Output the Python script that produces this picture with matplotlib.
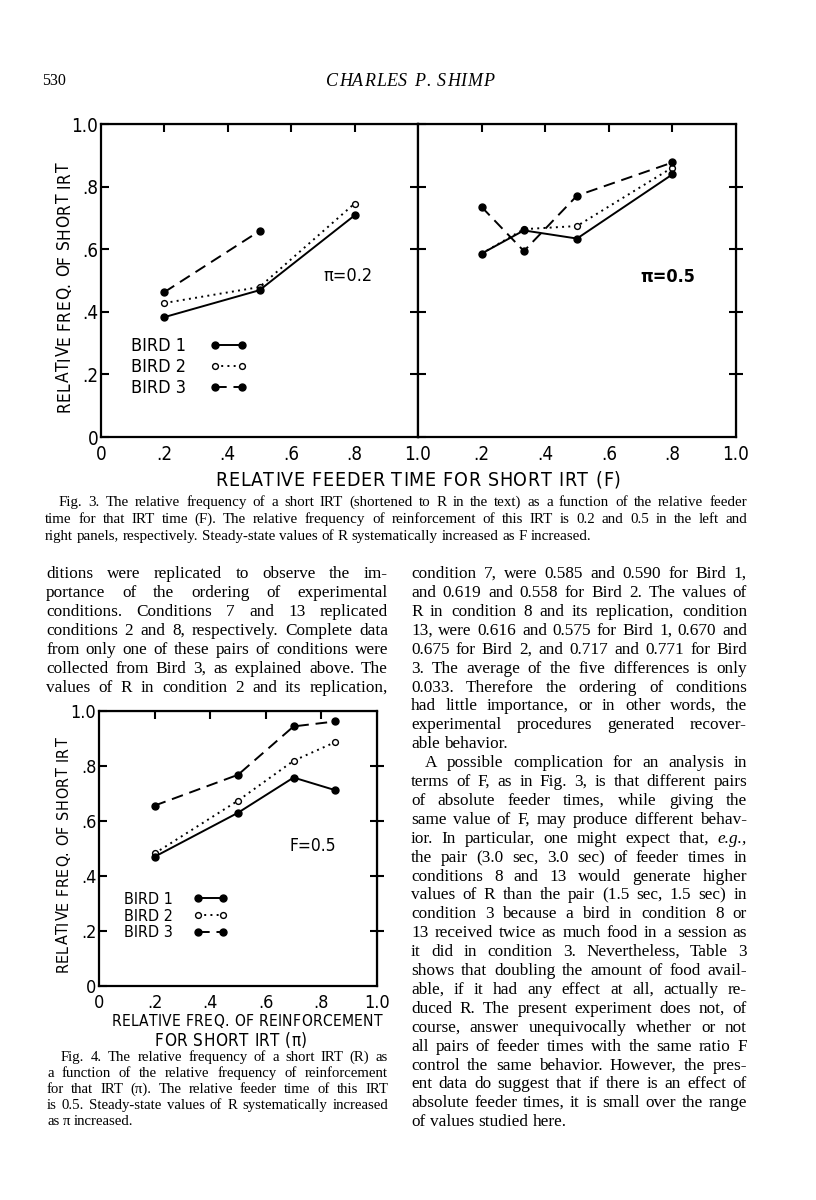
#!/usr/bin/env python3

import matplotlib
matplotlib.use('Agg')
import matplotlib.pyplot as plt
from matplotlib import font_manager

W, H = 816, 1200

#############################################################################
# Data
#############################################################################

# Fig. 3, left panel (pi = 0.2)
f3l_x = [0.2, 0.5, 0.8]
f3l_bird1 = [0.383, 0.469, 0.708]
f3l_bird2 = [0.428, 0.479, 0.746]
f3l_x_b3 = [0.2, 0.5]
f3l_bird3 = [0.463, 0.658]

# Fig. 3, right panel (pi = 0.5)
f3r_x = [0.2, 0.333, 0.5, 0.8]
f3r_bird1 = [0.586, 0.660, 0.634, 0.839]
f3r_bird2 = [0.586, 0.664, 0.674, 0.861]
f3r_bird3 = [0.735, 0.594, 0.771, 0.877]

# Fig. 4 (F = 0.5)
f4_x = [0.2, 0.5, 0.7, 0.85]
f4_bird1 = [0.470, 0.630, 0.758, 0.712]
f4_bird2 = [0.482, 0.674, 0.819, 0.887]
f4_bird3 = [0.656, 0.768, 0.944, 0.962]

bird_labels = ['BIRD 1', 'BIRD 2', 'BIRD 3']
tick_vals = [0, 0.2, 0.4, 0.6, 0.8, 1.0]
tick_text = ['0', '.2', '.4', '.6', '.8', '1.0']
inner_ticks = [0.2, 0.4, 0.6, 0.8]

# page text
header_num = '530'
header_name = 'CHARLES P. SHIMP'

fig3_caption = [
  'Fig. 3. The relative frequency of a short IRT (shortened to R in the text) as a function of the relative feeder',
  'time for that IRT time (F). The relative frequency of reinforcement of this IRT is 0.2 and 0.5 in the left and',
  'right panels, respectively. Steady-state values of R systematically increased as F increased.',
]

fig4_caption = [
  'Fig. 4. The relative frequency of a short IRT (R) as',
  'a function of the relative frequency of reinforcement',
  'for that IRT (π). The relative feeder time of this IRT',
  'is 0.5. Steady-state values of R systematically increased',
  'as π increased.',
]

left_col = [
  'ditions were replicated to observe the im-',
  'portance of the ordering of experimental',
  'conditions. Conditions 7 and 13 replicated',
  'conditions 2 and 8, respectively. Complete data',
  'from only one of these pairs of conditions were',
  'collected from Bird 3, as explained above. The',
  'values of R in condition 2 and its replication,',
]

right_par1 = [
  'condition 7, were 0.585 and 0.590 for Bird 1,',
  'and 0.619 and 0.558 for Bird 2. The values of',
  'R in condition 8 and its replication, condition',
  '13, were 0.616 and 0.575 for Bird 1, 0.670 and',
  '0.675 for Bird 2, and 0.717 and 0.771 for Bird',
  '3. The average of the five differences is only',
  '0.033. Therefore the ordering of conditions',
  'had little importance, or in other words, the',
  'experimental procedures generated recover-',
  'able behavior.',
]

right_par2 = [
  'A possible complication for an analysis in',
  'terms of F, as in Fig. 3, is that different pairs',
  'of absolute feeder times, while giving the',
  'same value of F, may produce different behav-',
  'ior. In particular, one might expect that, _e.g.,_',
  'the pair (3.0 sec, 3.0 sec) of feeder times in',
  'conditions 8 and 13 would generate higher',
  'values of R than the pair (1.5 sec, 1.5 sec) in',
  'condition 3 because a bird in condition 8 or',
  '13 received twice as much food in a session as',
  'it did in condition 3. Nevertheless, Table 3',
  'shows that doubling the amount of food avail-',
  'able, if it had any effect at all, actually re-',
  'duced R. The present experiment does not, of',
  'course, answer unequivocally whether or not',
  'all pairs of feeder times with the same ratio F',
  'control the same behavior. However, the pres-',
  'ent data do suggest that if there is an effect of',
  'absolute feeder times, it is small over the range',
  'of values studied here.',
]

# lettering font: a narrow sans if one is installed
_fonts = font_manager.fontManager.ttflist
_names = {f.name for f in _fonts}
if 'Liberation Sans Narrow' in _names:
  LET = dict(family='Liberation Sans Narrow')
elif any(f.name == 'DejaVu Sans' and f.stretch == 'condensed' for f in _fonts):
  LET = dict(family='DejaVu Sans', stretch='condensed')
else:
  LET = dict(family='Roboto')
SERIF = ['Liberation Serif', 'DejaVu Serif']

fig = plt.figure(figsize=(W / 100, H / 100), dpi=100)
fig.patch.set_facecolor('white')
R = fig.canvas.get_renderer()


def px_axes(x0, y0, x1, y1):
  # axes placed by pixel box (top-left origin)
  return fig.add_axes([x0 / W, 1 - y1 / H, (x1 - x0) / W, (y1 - y0) / H])


def setup(ax, xlabels, ylabels, right_dir, size):
  ax.set_xlim(0, 1)
  ax.set_ylim(0, 1)
  for s in ax.spines.values():
    s.set_linewidth(1.6)
  ax.set_xticks(tick_vals)
  ax.set_xticklabels(xlabels, fontsize=size, **LET)
  ax.tick_params(axis='x', length=0, pad=6)
  ax.set_yticks(tick_vals)
  if ylabels:
    ax.set_yticklabels(tick_text, fontsize=size, **LET)
  else:
    ax.set_yticklabels([])
  ax.tick_params(axis='y', direction='in', length=6, width=1.5, pad=2)
  top = ax.secondary_xaxis('top')
  top.set_xticks(inner_ticks)
  top.set_xticklabels([])
  top.tick_params(direction='in', length=6, width=1.5)
  right = ax.secondary_yaxis('right')
  right.set_yticks(inner_ticks)
  right.set_yticklabels([])
  right.tick_params(direction=right_dir, length=6 if right_dir == 'in' else 10, width=1.5)


def draw_birds(ax, series):
  handles = []
  styles = [
    dict(ls='-', mfc='black', ms=5, z=3.3),
    dict(ls=(0, (1, 2.2)), mfc='white', ms=4.2, z=3.1),
    dict(ls=(0, (6, 3.5)), mfc='black', ms=5, z=3.2),
  ]
  for (x, y), st in zip(series, styles):
    h, = ax.plot(x, y, color='black', lw=1.4, marker='o', mec='black',
                 mew=1.0, ls=st['ls'], mfc=st['mfc'], ms=st['ms'],
                 zorder=st['z'], clip_on=False)
    handles.append(h)
  return handles


def bird_legend(ax, handles, x, y, size, hlen_px, spacing):
  em = size * 100 / 72
  prop = dict(size=size)
  prop.update(LET)
  leg = ax.legend(handles, bird_labels, loc='upper left',
                  bbox_to_anchor=(x / W, 1 - y / H), bbox_transform=fig.transFigure,
                  frameon=False, markerfirst=False, numpoints=2,
                  prop=prop, handlelength=hlen_px / em,
                  handletextpad=1.3, labelspacing=spacing, borderpad=0, borderaxespad=0)
  return leg


def spaced(xc, yc, s, size, length, rot=0, family=None, style='normal'):
  # letter-spaced lettering centred on (xc, yc) in page pixels
  font = dict(family=family) if family else LET
  ts = [fig.text(0, 0, c, fontsize=size, ha='left', va='baseline', style=style, **font)
        for c in s]
  while True:
    em = size * 100 / 72
    ws = [0.3 * em if c == ' ' else t.get_window_extent(R).width for c, t in zip(s, ts)]
    track = (length - sum(ws)) / (len(s) - 1)
    if track > 0.3 or size < 6:
      break
    size *= 0.97
    for t in ts:
      t.set_fontsize(size)
  pos = -length / 2
  for t, w in zip(ts, ws):
    if rot == 0:
      x, y = xc + pos, yc + 0.36 * em
    else:
      x, y = xc + 0.36 * em, yc - pos
      t.set_rotation(90)
      t.set_rotation_mode('anchor')
    t.set_position((x / W, 1 - y / H))
    pos += w + track


def put_line(line, x0, x1, yc, size, justify):
  em = size * 100 / 72
  parts = []
  for w in line.split():
    style = 'normal'
    if w.startswith('_') and w.endswith('_'):
      w = w[1:-1]
      style = 'italic'
    parts.append(fig.text(0, 0, w, fontsize=size, family=SERIF, style=style,
                          ha='left', va='baseline'))
  while True:
    widths = [p.get_window_extent(R).width for p in parts]
    if justify and len(parts) > 1:
      gap = (x1 - x0 - sum(widths)) / (len(parts) - 1)
    else:
      gap = 0.25 * size * 100 / 72
    if not justify or gap > 0.2 * size * 100 / 72 or size < 6:
      break
    size *= 0.97
    for p in parts:
      p.set_fontsize(size)
  x = x0
  yb = round(yc + 0.3 * em)
  for p, w in zip(parts, widths):
    p.set_position((x / W, 1 - yb / H))
    x += w + gap


def put_par(lines, x0, x1, y0, dy, size, indent=0, last_full=False):
  for i, line in enumerate(lines):
    full = last_full or i < len(lines) - 1
    put_line(line, x0 + (indent if i == 0 else 0), x1, y0 + i * dy, size, full)


#############################################################################
# Fig. 3
#############################################################################
ax3l = px_axes(101, 124, 418, 437)
ax3r = px_axes(418, 124, 736, 437)
setup(ax3l, tick_text, True, 'in', 13.5)
setup(ax3r, [''] + tick_text[1:], False, 'inout', 13.5)

h3l = draw_birds(ax3l, [(f3l_x, f3l_bird1), (f3l_x, f3l_bird2), (f3l_x_b3, f3l_bird3)])
draw_birds(ax3r, [(f3r_x, f3r_bird1), (f3r_x, f3r_bird2), (f3r_x, f3r_bird3)])
bird_legend(ax3l, h3l, 131, 337, 13, 38, 0.17)

ax3l.text(0.78, 0.514, 'π=0.2', transform=ax3l.transAxes, ha='center', va='center',
          fontsize=13, **LET)
ax3r.text(0.785, 0.51, 'π=0.5', transform=ax3r.transAxes, ha='center', va='center',
          fontsize=13, weight='bold', **LET)

spaced(63, 287, 'RELATIVE FREQ. OF SHORT IRT', 14, 250, rot=90)
spaced(418, 479, 'RELATIVE FEEDER TIME FOR SHORT IRT (F)', 14, 405)

#############################################################################
# Fig. 4
#############################################################################
ax4 = px_axes(99, 711, 377, 986)
setup(ax4, tick_text, True, 'inout', 13)
h4 = draw_birds(ax4, [(f4_x, f4_bird1), (f4_x, f4_bird2), (f4_x, f4_bird3)])
bird_legend(ax4, h4, 124, 892, 11.5, 34, 0.1)
ax4.text(0.77, 0.509, 'F=0.5', transform=ax4.transAxes, ha='center', va='center',
         fontsize=12.5, **LET)

spaced(62, 855, 'RELATIVE FREQ. OF SHORT IRT', 13, 235, rot=90)
spaced(247, 1020, 'RELATIVE FREQ. OF REINFORCEMENT', 13, 271)
spaced(231, 1040, 'FOR SHORT IRT (π)', 13, 152)

#############################################################################
# Page text
#############################################################################
fig.text(42 / W, 1 - 85 / H, header_num, fontsize=11.5, family=SERIF, ha='left', va='baseline')
spaced(410, 80, header_name, 13, 168, family=SERIF, style='italic')

put_par(fig3_caption, 45, 747, 502, 16.5, 10.8, indent=14)
put_par(fig4_caption, 47, 388, 1057, 16, 10.6, indent=14)
put_par(left_col, 46, 388, 573, 18.9, 12.4, last_full=True)
put_par(right_par1, 411, 747, 573, 18.9, 12.4)
put_par(right_par2, 411, 747, 573 + 10 * 18.9, 18.9, 12.4, indent=14)

fig.savefig('out.png', dpi=100, facecolor='white')
